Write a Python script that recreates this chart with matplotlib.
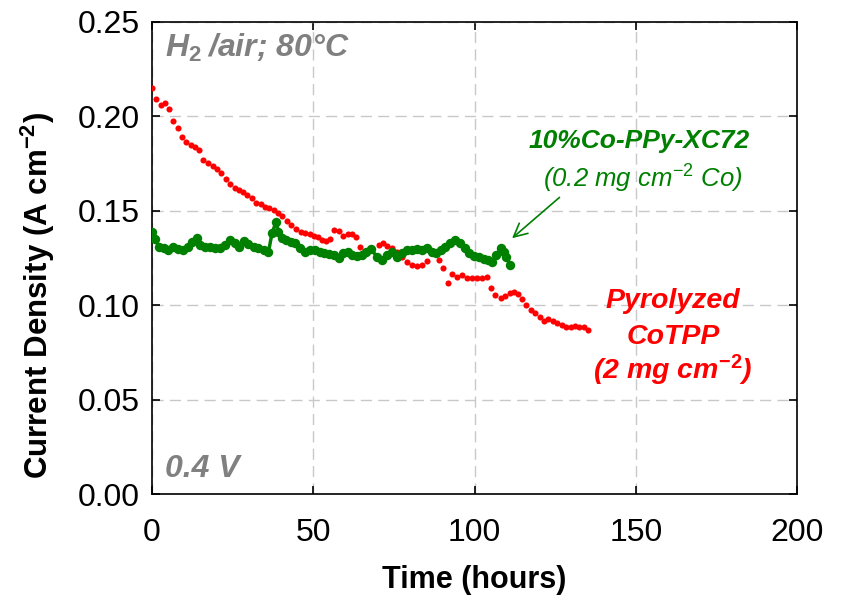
import matplotlib
matplotlib.use("Agg")
import matplotlib.pyplot as plt

plt.rcParams['font.family'] = ['Liberation Sans', 'DejaVu Sans']
plt.rcParams['mathtext.fontset'] = 'custom'
plt.rcParams['mathtext.rm'] = 'Liberation Sans'
plt.rcParams['mathtext.it'] = 'Liberation Sans:italic'
plt.rcParams['mathtext.bf'] = 'Liberation Sans:bold'

# Pyrolyzed CoTPP (red dots)
red_t = [0.0, 1.1, 2.7, 4.0, 5.3, 6.6, 8.1, 9.3, 10.7, 12.0, 13.4, 14.7, 15.9, 17.5, 18.8,
         20.2, 21.5, 22.9, 24.2, 25.6, 26.9, 28.3, 29.6, 31.0, 32.3, 33.7, 35.0, 36.3, 37.7,
         39.0, 40.4, 41.8, 43.2, 44.7, 46.2, 47.5, 48.9, 50.1, 51.5, 52.8, 54.0, 55.3, 56.5,
         57.9, 59.2, 60.7, 62.0, 63.4, 64.6, 70.3, 71.6, 72.9, 74.4, 76.0, 77.5, 79.1, 80.7,
         82.2, 83.8, 85.3, 88.9, 90.3, 91.7, 93.1, 94.6, 96.2, 97.7, 99.3, 100.8, 102.4,
         103.9, 105.2, 106.5, 108.1, 109.4, 110.9, 112.2, 113.6, 114.8, 116.1, 117.4, 118.8,
         120.2, 121.5, 122.9, 124.2, 125.7, 127.0, 128.4, 129.8, 131.2, 132.5, 133.9, 135.2]
red_j = [0.2147, 0.2089, 0.2060, 0.2068, 0.2036, 0.1976, 0.1935, 0.1891, 0.1865, 0.1847,
         0.1838, 0.1819, 0.1770, 0.1750, 0.1736, 0.1719, 0.1698, 0.1666, 0.1639, 0.1622,
         0.1611, 0.1600, 0.1583, 0.1566, 0.1542, 0.1534, 0.1518, 0.1512, 0.1504, 0.1486,
         0.1470, 0.1447, 0.1424, 0.1402, 0.1389, 0.1384, 0.1377, 0.1368, 0.1359, 0.1345,
         0.1341, 0.1349, 0.1398, 0.1394, 0.1366, 0.1377, 0.1375, 0.1359, 0.1310, 0.1320,
         0.1327, 0.1315, 0.1301, 0.1283, 0.1257, 0.1230, 0.1213, 0.1206, 0.1213, 0.1232,
         0.1240, 0.1196, 0.1116, 0.1164, 0.1151, 0.1160, 0.1146, 0.1145, 0.1146, 0.1146,
         0.1148, 0.1090, 0.1054, 0.1037, 0.1051, 0.1063, 0.1069, 0.1060, 0.1032, 0.1002,
         0.0975, 0.0958, 0.0940, 0.0919, 0.0926, 0.0919, 0.0908, 0.0896, 0.0884, 0.0887,
         0.0891, 0.0887, 0.0884, 0.0870]

# 10%Co-PPy-XC72 (green line + dots)
green_t = [0.0, 0.9, 2.2, 3.7, 5.1, 6.6, 8.2, 9.7, 11.1, 12.5, 13.9, 14.9, 16.5, 18.0, 19.6,
           21.1, 22.7, 24.2, 25.6, 27.1, 28.6, 29.9, 31.5, 33.0, 34.6, 36.1, 37.2, 38.5, 39.2,
           40.3, 41.6, 43.1, 44.4, 46.0, 47.5, 49.1, 50.6, 52.0, 53.4, 54.8, 56.3, 57.9, 59.2,
           60.7, 62.0, 63.6, 65.1, 66.5, 67.9, 69.8, 71.3, 72.9, 74.4, 76.0, 77.5, 79.1, 80.7,
           82.2, 83.8, 85.3, 86.9, 88.2, 89.7, 91.0, 92.5, 94.1, 95.4, 96.9, 98.2, 99.8, 101.3,
           102.9, 104.1, 105.5, 106.8, 108.1, 109.1, 109.9, 110.9]
green_j = [0.1389, 0.1350, 0.1310, 0.1301, 0.1292, 0.1307, 0.1298, 0.1292, 0.1310, 0.1336,
           0.1357, 0.1319, 0.1310, 0.1310, 0.1301, 0.1301, 0.1319, 0.1345, 0.1327, 0.1310,
           0.1340, 0.1322, 0.1310, 0.1301, 0.1290, 0.1280, 0.1380, 0.1442, 0.1389, 0.1354,
           0.1345, 0.1336, 0.1327, 0.1301, 0.1283, 0.1292, 0.1292, 0.1283, 0.1275, 0.1271,
           0.1266, 0.1248, 0.1278, 0.1283, 0.1266, 0.1261, 0.1266, 0.1283, 0.1296, 0.1257,
           0.1239, 0.1266, 0.1283, 0.1257, 0.1275, 0.1292, 0.1292, 0.1298, 0.1292, 0.1301,
           0.1283, 0.1275, 0.1292, 0.1310, 0.1327, 0.1345, 0.1327, 0.1301, 0.1275, 0.1260,
           0.1254, 0.1245, 0.1239, 0.1230, 0.1266, 0.1301, 0.1283, 0.1257, 0.1213]

x_ticks = [0, 50, 100, 150, 200]
y_ticks = [0.00, 0.05, 0.10, 0.15, 0.20, 0.25]
y_ticklabels = ['0.00', '0.05', '0.10', '0.15', '0.20', '0.25']

RED = '#FF0000'
GREEN = '#008000'
GRAY = '#808080'

fig = plt.figure(figsize=(8.42, 5.98), dpi=100)
ax = fig.add_axes([0.1805, 0.1731, 0.7661, 0.7909])

ax.plot(red_t, red_j, linestyle='none', marker='o', markersize=4.4,
        color=RED, markeredgewidth=0, zorder=3)
ax.plot(green_t, green_j, linestyle='-', linewidth=2.5, marker='o', markersize=6.8,
        color=GREEN, markeredgewidth=0, zorder=4)

ax.set_xlim(0, 200)
ax.set_ylim(0, 0.25)
ax.set_xticks(x_ticks)
ax.set_xticklabels([str(v) for v in x_ticks])
ax.set_yticks(y_ticks)
ax.set_yticklabels(y_ticklabels)
ax.tick_params(direction='in', length=6, width=1.2, labelsize=23,
               top=True, right=True)
ax.tick_params(axis='y', pad=9)
ax.tick_params(axis='x', pad=17)
ax.grid(True, color='#c8c8c8', linestyle=(0, (8, 4.5)), linewidth=1.0)
ax.set_axisbelow(True)
for sp in ax.spines.values():
    sp.set_linewidth(1.2)
    sp.set_color('black')

ax.set_xlabel('Time (hours)', fontsize=22, fontweight='bold', labelpad=12)
ax.set_ylabel('Current Density (A cm$^{\\mathbf{-2}}$)', fontsize=22.5, fontweight='bold')
ax.yaxis.set_label_coords(-0.147, 0.42)

ax.text(4, 0.236, 'H$_{\\mathbf{2}}$\u2009/air; 80°C', color=GRAY, fontsize=23, fontweight='bold',
        fontstyle='italic', ha='left', va='center')
ax.text(4, 0.0135, '0.4 V', color=GRAY, fontsize=23, fontweight='bold',
        fontstyle='italic', ha='left', va='center')

ax.text(151, 0.187, '10%Co-PPy-XC72', color=GREEN, fontsize=19, fontweight='bold',
        fontstyle='italic', ha='center', va='center')
ax.text(152, 0.167, '(0.2 mg cm$^{-2}$ Co)', color=GREEN, fontsize=18.5,
        fontstyle='italic', ha='center', va='center')
ax.annotate('', xy=(111, 0.1345), xytext=(127, 0.158),
            arrowprops=dict(arrowstyle='->', color=GREEN, lw=1.2, mutation_scale=24))

ax.text(161.5, 0.1022, 'Pyrolyzed', color=RED, fontsize=20.5, fontweight='bold',
        fontstyle='italic', ha='center', va='center')
ax.text(161.5, 0.0835, 'CoTPP', color=RED, fontsize=20.5, fontweight='bold',
        fontstyle='italic', ha='center', va='center')
ax.text(161.5, 0.0655, '(2 mg cm$^{\\mathbf{-2}}$)', color=RED, fontsize=20.5, fontweight='bold',
        fontstyle='italic', ha='center', va='center')

fig.savefig('out.png', dpi=100)
